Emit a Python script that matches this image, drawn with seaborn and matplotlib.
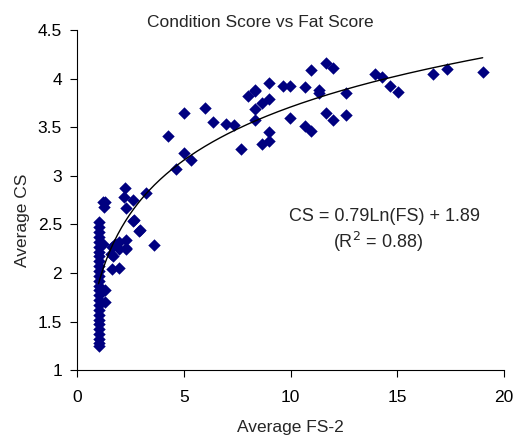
import numpy as np
import pandas as pd
import matplotlib
matplotlib.use("Agg")
import matplotlib.pyplot as plt
import seaborn as sns

# Average fat score (FS-2) and average condition score (CS) per group
fs_values = [
    # FS = 1 column
    1.0, 1.0, 1.0, 1.0, 1.0, 1.0, 1.0, 1.0, 1.0, 1.0,
    1.0, 1.0, 1.0, 1.0, 1.0, 1.0, 1.0, 1.0, 1.0, 1.0,
    1.0, 1.0, 1.0, 1.0, 1.0, 1.0, 1.0,
    # low FS scatter
    1.23, 1.3, 1.31, 1.31, 1.27, 1.19, 1.61, 1.58, 1.61, 1.66,
    1.78, 1.97, 1.97, 1.97, 2.28, 2.31, 2.28, 2.25, 2.28, 2.2,
    2.6, 2.6, 2.64, 2.91, 2.94, 3.24, 3.61,
    # mid FS
    4.27, 4.63, 5.02, 5.02, 5.34, 6.0, 6.35, 6.98, 7.37, 7.68,
    8.0, 8.31, 8.31, 8.31, 8.31, 8.65, 8.65, 8.98, 8.98, 8.98,
    8.98, 9.64, 9.98, 9.98, 10.66, 10.66, 10.97, 10.97, 11.31, 11.31,
    11.64, 11.64, 11.99, 11.99, 12.61, 12.61,
    # high FS
    13.94, 14.3, 14.65, 15.04, 16.68, 17.34, 19.0,
]
cs_values = [
    2.52, 2.47, 2.42, 2.37, 2.32, 2.27, 2.22, 2.17, 2.12, 2.07,
    2.02, 1.97, 1.92, 1.87, 1.82, 1.77, 1.72, 1.67, 1.62, 1.57,
    1.52, 1.47, 1.42, 1.37, 1.32, 1.28, 1.25,
    2.3, 2.73, 1.82, 1.70, 2.68, 2.73, 2.27, 2.2, 2.04, 2.17,
    2.3, 2.32, 2.25, 2.05, 2.34, 2.25, 2.67, 2.87, 2.26, 2.78,
    2.54, 2.75, 2.55, 2.43, 2.44, 2.82, 2.29,
    3.41, 3.07, 3.65, 3.24, 3.16, 3.7, 3.55, 3.53, 3.52, 3.28,
    3.82, 3.88, 3.69, 3.57, 3.87, 3.75, 3.33, 3.96, 3.79, 3.45,
    3.36, 3.92, 3.92, 3.6, 3.91, 3.51, 4.09, 3.46, 3.88, 3.85,
    4.16, 3.65, 4.11, 3.58, 3.85, 3.63,
    4.05, 4.02, 3.93, 3.86, 4.05, 4.1, 4.07,
]

# Logarithmic trend: CS = a*Ln(FS) + b
fit_a = 0.79
fit_b = 1.89
r_squared = 0.88

x_ticks = [0, 5, 10, 15, 20]
y_ticks = [1, 1.5, 2, 2.5, 3, 3.5, 4, 4.5]

sns.set_theme(style="ticks")
plt.rcParams["font.family"] = ["Liberation Sans", "DejaVu Sans"]

df = pd.DataFrame({"FS": fs_values, "CS": cs_values})
fs_line = np.linspace(min(fs_values), max(fs_values), 200)
trend = pd.DataFrame({"FS": fs_line, "CS": fit_a * np.log(fs_line) + fit_b})

fig = plt.figure(figsize=(5.18, 4.37), dpi=100)
ax = fig.add_axes([0.149, 0.153, 0.824, 0.778])

sns.scatterplot(data=df, x="FS", y="CS", ax=ax, marker="D", s=40,
                color="#000080", edgecolor="#000080", linewidth=0, zorder=2)
sns.lineplot(data=trend, x="FS", y="CS", ax=ax, color="black",
             linewidth=1.0, zorder=3)

ax.set_xlim(0, 20)
ax.set_ylim(1, 4.5)
ax.set_xticks(x_ticks)
ax.set_yticks(y_ticks)
ax.set_xticklabels([f"{t:g}" for t in x_ticks])
ax.set_yticklabels([f"{t:g}" for t in y_ticks])
ax.tick_params(axis="both", direction="out", length=5, width=0.8,
               labelsize=12.5, colors="black")
ax.tick_params(axis="x", pad=9)
ax.tick_params(axis="y", pad=6)
for side in ("top", "right"):
    ax.spines[side].set_visible(False)
for side in ("left", "bottom"):
    ax.spines[side].set_color("black")
    ax.spines[side].set_linewidth(0.8)

ax.set_xlabel("Average FS-2", fontsize=12.5, labelpad=11)
ax.set_ylabel("Average CS", fontsize=12.5)
ax.yaxis.set_label_coords(-0.11, 0.44)
ax.set_title("Condition Score vs Fat Score", fontsize=12.5, pad=2, x=0.43)

ax.text(14.4, 2.58, f"CS = {fit_a:.2f}Ln(FS) + {fit_b:.2f}",
        ha="center", va="center", fontsize=13)
ax.text(14.1, 2.32, f"(R$^2$ = {r_squared:.2f})",
        ha="center", va="center", fontsize=13)

fig.savefig("out.png", dpi=100)
